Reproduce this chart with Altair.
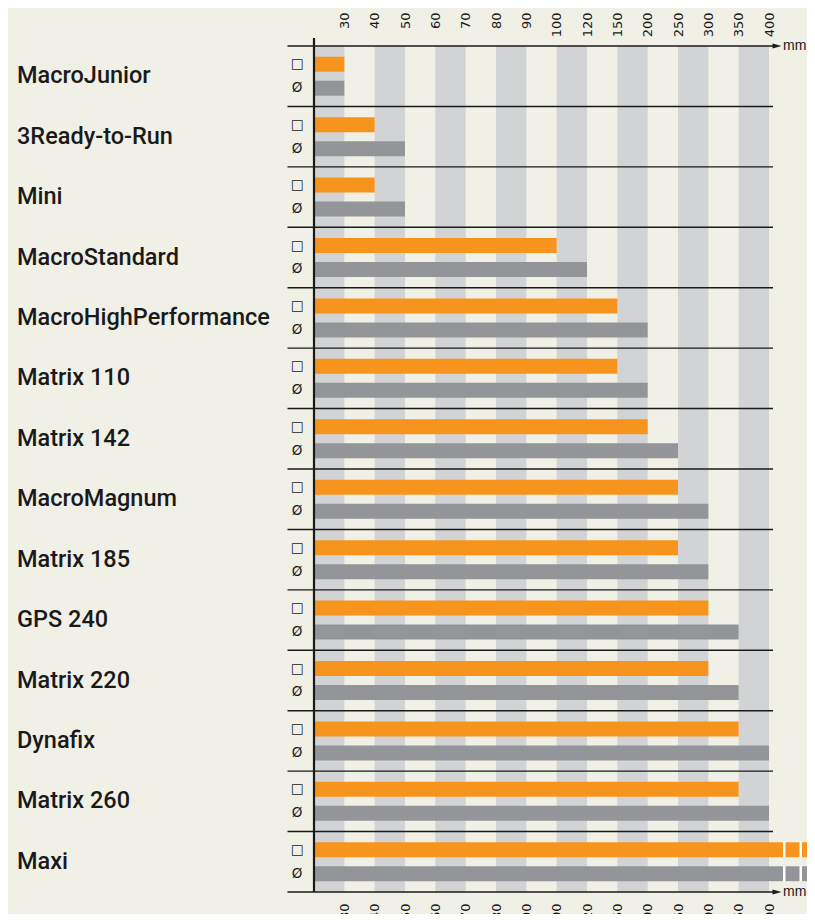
import altair as alt
import pandas as pd

# ---------------- data ----------------
products = ["MacroJunior", "3Ready-to-Run", "Mini", "MacroStandard",
            "MacroHighPerformance", "Matrix 110", "Matrix 142", "MacroMagnum",
            "Matrix 185", "GPS 240", "Matrix 220", "Dynafix", "Matrix 260", "Maxi"]
square_mm = [30, 40, 40, 100, 150, 150, 200, 250, 250, 300, 300, 350, 350, 400]
round_mm = [30, 50, 50, 120, 200, 200, 250, 300, 300, 350, 350, 400, 400, 400]
open_ended = [False] * 13 + [True]          # Maxi goes beyond 400 mm
tick_values = [30, 40, 50, 60, 70, 80, 90, 100, 120, 150, 200, 250, 300, 350, 400]
type_symbols = ["□", "Ø"]
type_colors = ["#F7941D", "#939598"]

# ---------------- style ----------------
BG = "#F1F0E6"
STRIPE = "#D1D3D4"
INK = "#1A1A1A"
W, H = 455, 846
PAD = {"left": 306, "top": 38, "right": 38, "bottom": 22}

rows = []
for p, s, r, o in zip(products, square_mm, round_mm, open_ended):
    rows.append({"product": p, "type": type_symbols[0], "value": s, "open": o})
    rows.append({"product": p, "type": type_symbols[1], "value": r, "open": o})
df = pd.DataFrame(rows)

starts = [0] + tick_values[:-1]
stripes_df = pd.DataFrame({"start": starts, "end": tick_values,
                           "shaded": [i % 2 == 0 for i in range(len(tick_values))]})
stripes_df = stripes_df[stripes_df["shaded"]]

prod_df = pd.DataFrame({"product": products})
last_df = pd.DataFrame({"product": [products[-1]]})
first_df = pd.DataFrame({"product": [products[0]]})
zero_df = pd.DataFrame({"x": [0]})

# piecewise scale: every tick gets an equal-width column
step = W / len(tick_values)
x_scale = alt.Scale(type="linear", domain=[0] + tick_values,
                    range=[i * step for i in range(len(tick_values) + 1)],
                    nice=False, zero=False)
y_scale = alt.Scale(domain=products, paddingInner=0, paddingOuter=0)
yoff_scale = alt.Scale(domain=type_symbols, paddingInner=0.375, paddingOuter=0.447)
color_scale = alt.Scale(domain=type_symbols, range=type_colors)


def Y(band=None):
    kw = {}
    if band is not None:
        kw["bandPosition"] = band
    return alt.Y("product:N", sort=products, scale=y_scale, axis=None, **kw)


YO = alt.YOffset("type:N", sort=type_symbols, scale=yoff_scale)
COL = alt.Color("type:N", scale=color_scale, legend=None)

tick_axis_common = dict(values=tick_values, labelAngle=270, labelAlign="right",
                        labelBaseline="middle", domain=False, ticks=False, grid=False,
                        title=None, labelFont="DejaVu Sans", labelFontSize=13,
                        labelColor=INK, labelOverlap=False, labelFlush=False,
                        labelBound=False)

stripes = alt.Chart(stripes_df).mark_rect(color=STRIPE).encode(
    x=alt.X("start:Q", scale=x_scale,
            axis=alt.Axis(orient="top", labelPadding=34, **tick_axis_common)),
    x2="end:Q",
)

separators = alt.Chart(prod_df).mark_rule(color=INK, strokeWidth=1.4).encode(
    x=alt.value(-26.5), x2=alt.value(459), y=Y(band=0))
bottom_line = alt.Chart(last_df).mark_rule(color=INK, strokeWidth=1.4).encode(
    x=alt.value(-26.5), x2=alt.value(459), y=Y(band=1))

bars = alt.Chart(df).mark_bar().encode(
    x=alt.X("value:Q", scale=x_scale,
            axis=alt.Axis(orient="bottom", labelPadding=11, **tick_axis_common)),
    y=Y(),
    yOffset=YO,
    color=COL,
)

names = alt.Chart(prod_df).mark_text(font="Roboto", fontWeight=500, fontSize=23.5,
                                     color=INK, align="left", baseline="middle").encode(
    x=alt.value(-297), y=Y(), text="product:N")

ext_white = alt.Chart(df).transform_filter("datum.open").mark_rule(
    color="white", strokeWidth=15, strokeCap="butt").encode(
    x=alt.X("value:Q", scale=x_scale, axis=None), x2=alt.value(W + PAD["right"]),
    y=Y(), yOffset=YO)
ext = alt.Chart(df).transform_filter("datum.open").mark_rule(
    strokeWidth=15, strokeCap="butt", strokeDash=[14, 2.5]).encode(
    x=alt.X("value:Q", scale=x_scale, axis=None), x2=alt.value(W + PAD["right"]),
    y=Y(), yOffset=YO, color=COL)

vline = alt.Chart(zero_df).mark_rule(color=INK, strokeWidth=2.2).encode(
    x=alt.X("x:Q", scale=x_scale, axis=None), y=alt.value(-8), y2=alt.value(H))

symbols = alt.Chart(df).mark_text(font="DejaVu Sans", fontSize=13.5, color=INK,
                                  align="center", baseline="middle").encode(
    x=alt.value(-17), y=Y(), yOffset=YO, text="type:N")

ARROW = "M-1,-0.55L1,0L-1,0.55Z"
arrow_top = alt.Chart(first_df).mark_point(shape=ARROW, filled=True, size=81,
                                           color=INK, opacity=1).encode(
    x=alt.value(463), y=Y(band=0))
arrow_bot = alt.Chart(last_df).mark_point(shape=ARROW, filled=True, size=81,
                                          color=INK, opacity=1).encode(
    x=alt.value(463), y=Y(band=1))
mm_top = alt.Chart(first_df).mark_text(text="mm", font="Liberation Sans", fontSize=14,
                                       color=INK, align="left", baseline="middle").encode(
    x=alt.value(469), y=Y(band=0))
mm_bot = alt.Chart(last_df).mark_text(text="mm", font="Liberation Sans", fontSize=14,
                                      color=INK, align="left", baseline="middle").encode(
    x=alt.value(469), y=Y(band=1))

chart = alt.layer(
    stripes, separators, bottom_line, bars, ext_white, ext, vline, symbols, names,
    arrow_top, arrow_bot, mm_top, mm_bot,
).resolve_axis(x="independent").properties(
    width=W, height=H, background=BG, padding=PAD,
    autosize=alt.AutoSizeParams(type="none"),
).configure_view(stroke=None)

chart.save("out.html", embed_options={"renderer": "svg", "actions": False})
